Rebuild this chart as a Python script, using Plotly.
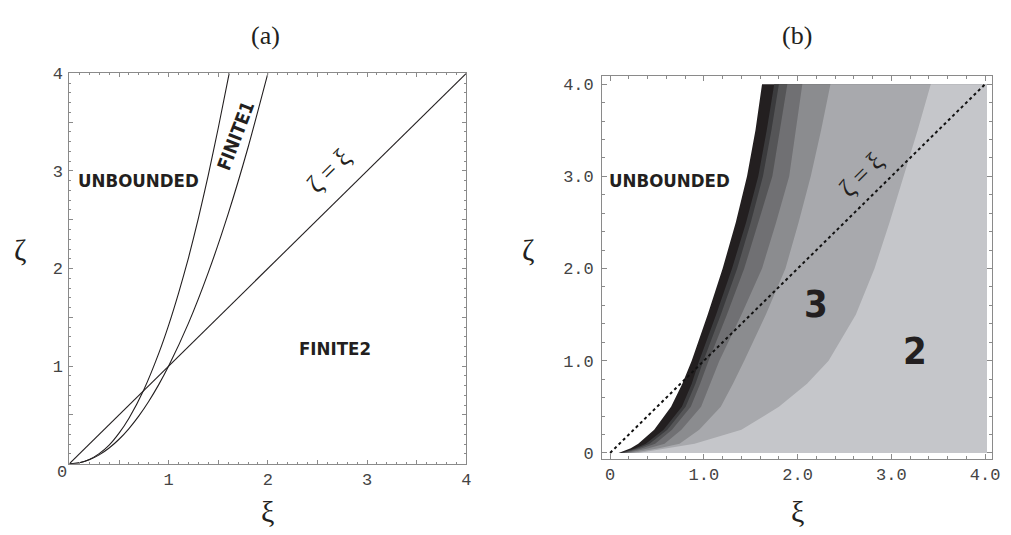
import plotly.graph_objects as go

# ---------------- data: panel (a) ----------------
diag_xi = [0, 4]
diag_zeta = [0, 4]

finite1_xi = [0, 0.1, 0.2, 0.3, 0.4, 0.5, 0.6, 0.75, 0.9, 1.0, 1.1, 1.2, 1.3, 1.4, 1.5, 1.61]
finite1_zeta = [0, 0.009, 0.043, 0.103, 0.19, 0.313, 0.466, 0.758, 1.13, 1.42, 1.748, 2.11, 2.516, 2.96, 3.44, 4.0]

finite2_xi = [0, 0.1, 0.2, 0.3, 0.4, 0.5, 0.6, 0.7, 0.8, 0.9, 1.0, 1.2, 1.4, 1.6, 1.8, 2.0]
finite2_zeta = [0, 0.01, 0.04, 0.09, 0.16, 0.25, 0.36, 0.49, 0.64, 0.81, 1.0, 1.44, 1.96, 2.56, 3.24, 4.0]

# ---------------- data: panel (b) ----------------
zeta_levels = [0, 0.05, 0.1, 0.25, 0.5, 0.75, 1.0, 1.5, 2.0, 2.5, 3.0, 3.5, 4.0]
# xi of each band's left boundary at the zeta levels above
band_left_xi = [
    [0.09, 0.22, 0.30, 0.47, 0.65, 0.77, 0.87, 1.04, 1.20, 1.34, 1.46, 1.55, 1.62],
    [0.11, 0.27, 0.38, 0.57, 0.765, 0.87, 0.95, 1.13, 1.30, 1.45, 1.58, 1.67, 1.75],
    [0.13, 0.30, 0.42, 0.61, 0.805, 0.91, 0.995, 1.18, 1.355, 1.50, 1.63, 1.72, 1.80],
    [0.15, 0.34, 0.48, 0.66, 0.86, 0.96, 1.05, 1.245, 1.43, 1.58, 1.73, 1.81, 1.89],
    [0.18, 0.41, 0.58, 0.76, 0.97, 1.07, 1.165, 1.40, 1.62, 1.77, 1.91, 1.98, 2.05],
    [0.23, 0.52, 0.74, 0.95, 1.18, 1.31, 1.43, 1.66, 1.87, 2.01, 2.14, 2.25, 2.35],
    [0.30, 0.62, 0.90, 1.40, 1.80, 2.10, 2.33, 2.62, 2.82, 2.98, 3.13, 3.28, 3.42],
]
band_colors = ["#231f20", "#3b3b3d", "#555557", "#707073", "#8b8c8f", "#a8a9ad", "#c5c6ca"]
xi_right_edge = 4.02

dot_xi = [0, 4]
dot_zeta = [0, 4]

ticks_a = [0, 0.5, 1, 1.5, 2, 2.5, 3, 3.5, 4]
ticktext_a = ["", "", "1", "", "2", "", "3", "", "4"]
ticks_b = [0, 1, 2, 3, 4]
ticktext_b = ["0", "1.0", "2.0", "3.0", "4.0"]

W, H = 1011, 535
def px(x):
    return x / W
def py(y):
    return 1 - y / H

fig = go.Figure()

line_col = "#231f20"
for xs, ys in [(diag_xi, diag_zeta), (finite1_xi, finite1_zeta), (finite2_xi, finite2_zeta)]:
    fig.add_trace(go.Scatter(x=xs, y=ys, mode="lines", line=dict(color=line_col, width=1.1, shape="spline", smoothing=0.6),
                             xaxis="x", yaxis="y", hoverinfo="skip", showlegend=False))

for left, col in zip(band_left_xi, band_colors):
    xs = list(left) + [xi_right_edge, xi_right_edge]
    ys = list(zeta_levels) + [zeta_levels[-1], zeta_levels[0]]
    fig.add_trace(go.Scatter(x=xs, y=ys, mode="lines", fill="toself", fillcolor=col,
                             line=dict(width=0, color=col), xaxis="x2", yaxis="y2",
                             hoverinfo="skip", showlegend=False))

fig.add_trace(go.Scatter(x=dot_xi, y=dot_zeta, mode="lines", line=dict(color="#111", width=2, dash="dot"),
                         xaxis="x2", yaxis="y2", hoverinfo="skip", showlegend=False))

tickfont = dict(family="Liberation Mono, Courier New, monospace", size=17, color="#444")
frame = "#8a8a8a"
common = dict(showgrid=False, zeroline=False, showline=True, linecolor=frame, linewidth=1,
              mirror="allticks", ticks="inside", tickcolor=frame, tickfont=tickfont, fixedrange=True)

fig.update_layout(
    width=W, height=H, margin=dict(l=0, r=0, t=0, b=0),
    paper_bgcolor="white", plot_bgcolor="white", showlegend=False,
    xaxis=dict(domain=[px(70), px(470)], range=[0, 4], anchor="y", tickmode="array",
               tickvals=ticks_a, ticktext=ticktext_a, ticklen=4,
               minor=dict(tickmode="linear", tick0=0, dtick=0.1, ticks="inside", ticklen=2, tickcolor=frame),
               **common),
    yaxis=dict(domain=[py(467), py(67)], range=[0, 4], anchor="x", tickmode="array",
               tickvals=ticks_a, ticktext=ticktext_a, ticklen=4, ticklabelstandoff=2,
               minor=dict(tickmode="linear", tick0=0, dtick=0.1, ticks="inside", ticklen=2, tickcolor=frame),
               **common),
    xaxis2=dict(domain=[px(607), px(1000)], range=[-0.0847, 4.074], anchor="y2", tickmode="array",
                tickvals=ticks_b, ticktext=ticktext_b, ticklen=5,
                minor=dict(tickmode="linear", tick0=0, dtick=0.2, ticks="inside", ticklen=3, tickcolor=frame),
                **common),
    yaxis2=dict(domain=[py(462), py(70)], range=[-0.0635, 4.085], anchor="x2", tickmode="array",
                tickvals=ticks_b, ticktext=ticktext_b, ticklen=5, ticklabelstandoff=4,
                minor=dict(tickmode="linear", tick0=0, dtick=0.2, ticks="inside", ticklen=3, tickcolor=frame),
                **common),
)

serif = "Liberation Serif, Times New Roman, serif"
narrow = "Liberation Sans Narrow, DejaVu Sans Condensed, Roboto, sans-serif"
dark = "#231f20"
ann = []
def paper_text(text, x, y, size, family=serif, color=dark):
    ann.append(dict(text=text, x=px(x), y=py(y), xref="paper", yref="paper", showarrow=False,
                    xanchor="center", yanchor="middle", font=dict(family=family, size=size, color=color)))
def data_text(text, x, y, ax, size, angle=0, family=narrow, bold=True):
    ann.append(dict(text=text, x=x, y=y, xref=ax[0], yref=ax[1], showarrow=False, textangle=angle,
                    xanchor="center", yanchor="middle",
                    font=dict(family=family, size=size, color=dark, weight="bold" if bold else "normal")))

paper_text("(a)", 268, 28, 26)
paper_text("(b)", 803.5, 28, 26)
paper_text("ξ", 270, 516, 30)
paper_text("ξ", 803.5, 516, 30)
paper_text("ζ", 20, 248, 30)
paper_text("ζ", 532, 248, 30)
paper_text("0", 62, 476, 17, family=tickfont["family"], color="#444")

A = ("x", "y")
B = ("x2", "y2")
data_text("UNBOUNDED", 0.70, 2.905, A, 18.5)
data_text("FINITE1", 1.68, 3.36, A, 18.5, angle=-69)
data_text("ζ = ξ", 2.62, 3.0, A, 26, angle=-45, family=serif, bold=False)
data_text("FINITE2", 2.675, 1.18, A, 18.5)

data_text("UNBOUNDED", 0.63, 2.96, B, 18.5)
data_text("ζ = ξ", 2.68, 3.02, B, 26, angle=-45, family=serif, bold=False)
data_text("3", 2.2, 1.62, B, 38)
data_text("2", 3.25, 1.11, B, 38)

fig.update_layout(annotations=ann)
fig.write_html("out.html", config={"displayModeBar": False},
               post_script="document.body.style.margin='0';document.body.style.overflow='hidden';")
